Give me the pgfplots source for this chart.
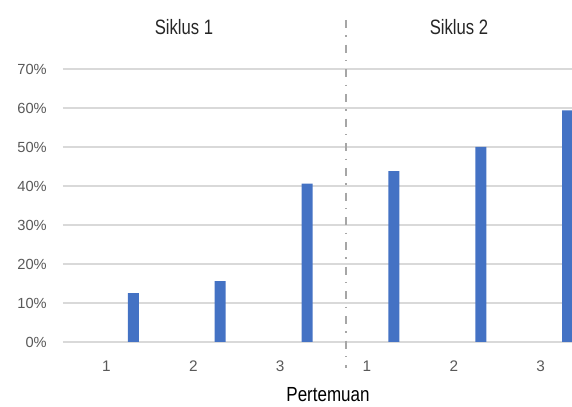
\documentclass[border=0pt]{standalone}
\usepackage{pgfplots}
\pgfplotsset{compat=1.18}
\usepackage{fontspec}
\setmainfont{Liberation Sans}
\usepackage{graphicx}

\definecolor{barblue}{HTML}{4472C4}
\definecolor{gridgray}{HTML}{D9D9D9}
\definecolor{ticktext}{HTML}{595959}
\definecolor{sepgray}{HTML}{A6A6A6}
\definecolor{titletext}{HTML}{262626}

% share of students per meeting (Pertemuan), two cycles
\pgfplotstableread{
x    y
0.31 12.5
1.31 15.6
2.31 40.6
3.31 43.8
4.31 50.0
5.31 59.4
}\datatable

\begin{document}
\begin{tikzpicture}[x=0.75pt,y=0.75pt]
\useasboundingbox (-63,-65) rectangle (509,342);
\begin{axis}[
  at={(0,0)}, anchor=south west,
  scale only axis, width=381.75pt, height=204.75pt,
  xmin=-0.5, xmax=5.36, ymin=0, ymax=70,
  axis line style={draw=none},
  major tick length=0pt,
  ytick={0,10,...,70},
  ymajorgrids, grid style={gridgray, line width=0.8pt},
  yticklabel={\pgfmathprintnumber{\tick}\%},
  yticklabel style={font=\fontsize{11}{13}\selectfont, text=ticktext, anchor=east, inner sep=0pt, xshift=-12pt},
  xtick={0,...,5}, xticklabels={1,2,3,1,2,3},
  xticklabel style={font=\fontsize{11.5}{13}\selectfont, text=ticktext, anchor=north, inner sep=0pt, yshift=-13.9pt},
  /pgf/number format/assume math mode=true,
  clip mode=individual,
]
\addplot[ybar, bar width=8.25pt, bar shift=0pt, fill=barblue, draw=none]
  table[x=x, y=y] {\datatable};
\end{axis}
% divider between the two cycles
\draw[sepgray, line width=1.5pt, dash pattern=on 6pt off 5.5pt on 1pt off 6pt]
  (282.7,322) -- (282.7,-26);
\node[text=titletext, font=\fontsize{12.5}{14}\selectfont] at (121,314.5) {\scalebox{1}[1.25]{Siklus 1}};
\node[text=titletext, font=\fontsize{12.5}{14}\selectfont] at (396,314.5) {\scalebox{1}[1.25]{Siklus 2}};
\node[text=black, font=\fontsize{12.75}{14}\selectfont] at (265,-52.5) {\scalebox{1}[1.2]{Pertemuan}};
\end{tikzpicture}
\end{document}
